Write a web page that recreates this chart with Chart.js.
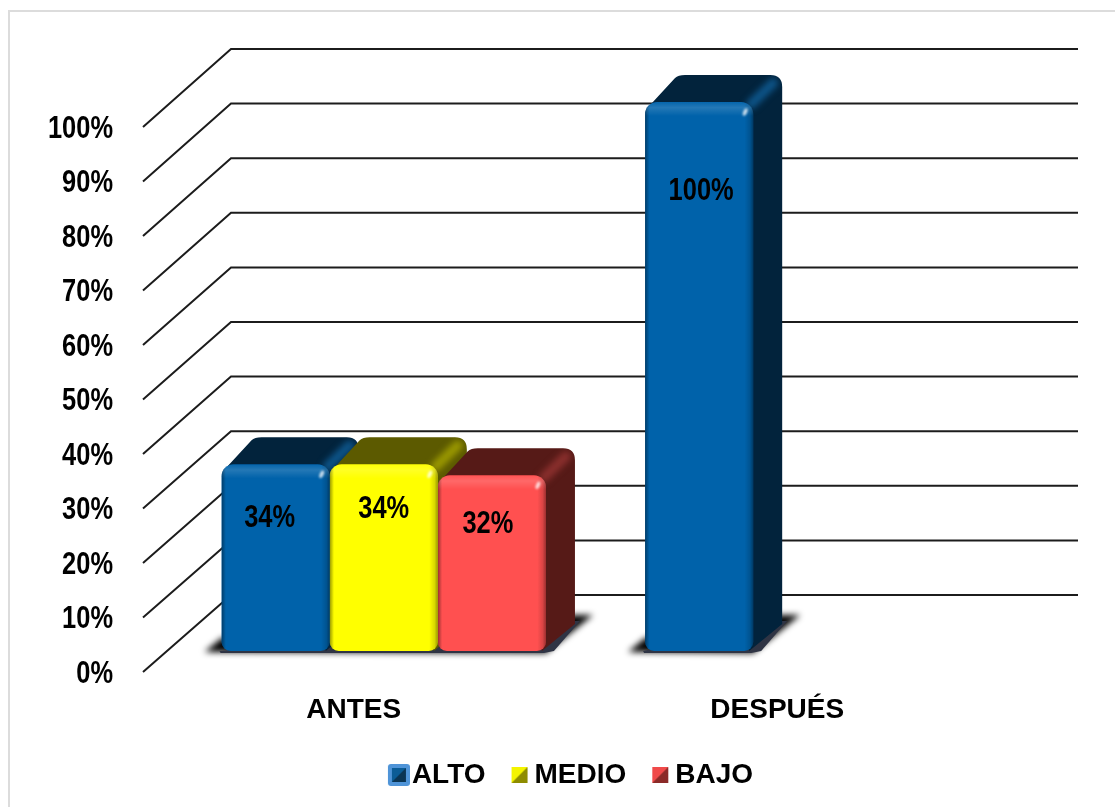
<!DOCTYPE html>
<html>
<head>
<meta charset="utf-8">
<title>ANTES / DESPUÉS</title>
<script src="https://cdn.jsdelivr.net/npm/chart.js@4/dist/chart.umd.min.js"></script>
<style>
  html, body { margin: 0; padding: 0; background: #fff; }
  #wrap { position: relative; width: 1115px; height: 807px; overflow: hidden; }
  #frame { position: absolute; left: 8px; top: 10px; right: 0; bottom: -5px;
           border-top: 2px solid #dcdcdc; border-left: 2px solid #dcdcdc; }
  canvas { position: absolute; left: 0; top: 0; }
</style>
</head>
<body>
<div id="wrap">
  <div id="frame"></div>
  <canvas id="chart" width="1115" height="807"></canvas>
</div>
<script>
// datos
const categories = ['ANTES', 'DESPUÉS'];
const seriesNames = ['ALTO', 'MEDIO', 'BAJO'];
const alto = [34, 100];
const medio = [34, null];
const bajo = [32, null];
const yTicks = [0, 10, 20, 30, 40, 50, 60, 70, 80, 90, 100];

// colores por serie
const frontColors = ['#0062aa', '#ffff00', '#ff5050'];
const darkColors = ['#02233c', '#5c5a00', '#561a17'];
const stripColors = ['#0d5488', '#9a9800', '#8a2f2d'];

const FONT = "'Liberation Sans', Arial, sans-serif";

// perspectiva del grafico
const DEPTH_X = 29, DEPTH_Y = 27;
const WALL_LEFT = 231, WALL_RIGHT = 1078;

// ajuste manual de las etiquetas de valor [serie][categoria]
const labelNudge = [
  [[-6, 54], [2, 89]],
  [[0, 45], null],
  [[-4, 49], null]
];

function frontY(p, v) { return p + 21 + v * 0.04; }
function wallY(p, v) { return p - 56 + v * 0.03; }

// texto angosto, el original esta comprimido a lo ancho
function narrowText(ctx, text, x, y, align) {
  ctx.save();
  ctx.font = 'bold 31px ' + FONT;
  ctx.fillStyle = '#000';
  ctx.textAlign = align;
  ctx.textBaseline = 'middle';
  ctx.translate(x, y);
  ctx.scale(0.82, 1);
  ctx.fillText(text, 0, 0);
  ctx.restore();
}

function legendIcon(i) {
  const c = document.createElement('canvas');
  c.width = 34; c.height = 24;
  const g = c.getContext('2d');
  const size = i === 0 ? 14 : 16;
  const right = i === 0 ? 30 : 29;
  const x = right - size, y = 12 - size / 2;
  if (i === 0) {
    g.fillStyle = '#4f94d8';
    g.beginPath();
    g.roundRect(x - 4, y - 4, size + 8, size + 8, 3);
    g.fill();
  }
  const tops = ['#0b5c96', '#f4f400', '#f04a4a'];
  const bottoms = ['#0a3554', '#8e8c00', '#8b2a28'];
  g.fillStyle = bottoms[i];
  g.fillRect(x, y, size, size);
  g.fillStyle = tops[i];
  g.beginPath();
  g.moveTo(x, y); g.lineTo(x + size, y); g.lineTo(x, y + size);
  g.closePath();
  g.fill();
  return c;
}

function roundedPath(ctx, el) {
  ctx.beginPath();
  ctx.roundRect(el.x - el.width / 2, el.y, el.width, el.base - el.y, [12, 12, 9, 9]);
}

function depthPath(ctx, x0, x1, t, b) {
  ctx.beginPath();
  ctx.moveTo(x0 + 6, t + 2);
  ctx.lineTo(x0 + 30, t - DEPTH_Y + 3);
  ctx.quadraticCurveTo(x0 + 33, t - DEPTH_Y, x0 + 40, t - DEPTH_Y);
  ctx.lineTo(x1 + DEPTH_X - 12, t - DEPTH_Y);
  ctx.quadraticCurveTo(x1 + DEPTH_X, t - DEPTH_Y, x1 + DEPTH_X, t - DEPTH_Y + 12);
  ctx.lineTo(x1 + DEPTH_X, b - DEPTH_Y);
  ctx.lineTo(x1 - 4, b);
  ctx.lineTo(x1 - 4, t + 6);
  ctx.closePath();
}

const bars3d = {
  id: 'bars3d',
  afterLayout(chart) {
    // la leyenda va centrada bajo las barras, no bajo el area
    const legend = chart.legend;
    legend.left += 61;
    legend.right += 61;
    legend.top -= 8;
    legend.bottom -= 8;
  },
  beforeDatasetsDraw(chart) {
    const ctx = chart.ctx;
    const y = chart.scales.y;
    ctx.save();

    // pared con lineas y rotulos del eje
    ctx.strokeStyle = '#1c1c1c';
    ctx.lineWidth = 2;
    yTicks.forEach(v => {
      const p = y.getPixelForValue(v);
      ctx.beginPath();
      ctx.moveTo(143, frontY(p, v));
      ctx.lineTo(WALL_LEFT, wallY(p, v));
      ctx.lineTo(WALL_RIGHT, wallY(p, v));
      ctx.stroke();
      narrowText(ctx, v + '%', 113, frontY(p, v) + 2, 'right');
    });

    // sombra en el piso
    categories.forEach((_, c) => {
      const els = chart.data.datasets
        .map((d, i) => d.data[c] == null ? null : chart.getDatasetMeta(i).data[c])
        .filter(Boolean);
      const x0 = els[0].x - els[0].width / 2;
      const last = els[els.length - 1];
      const x1 = last.x + last.width / 2;
      const b = last.base;
      ctx.save();
      ctx.filter = 'blur(3px)';
      ctx.fillStyle = '#000';
      ctx.beginPath();
      ctx.moveTo(x0, b - 13);
      ctx.lineTo(x0 - 17, b + 1);
      ctx.lineTo(x1, b + 2);
      ctx.lineTo(x1 + 47, b - 36);
      ctx.lineTo(x1 + 27, b - 36);
      ctx.closePath();
      ctx.fill();
      ctx.restore();
      ctx.fillStyle = '#2f3444';
      ctx.beginPath();
      ctx.moveTo(x0 - 2, b);
      ctx.lineTo(x0 - 1, b + 2);
      ctx.lineTo(x1 - 2, b + 2);
      ctx.lineTo(x1 + 8, b);
      ctx.lineTo(x1 + 34, b - 30);
      ctx.lineTo(x1 + 24, b - 30);
      ctx.closePath();
      ctx.fill();
    });

    // caras superior y lateral
    chart.data.datasets.forEach((d, i) => {
      chart.getDatasetMeta(i).data.forEach((el, c) => {
        if (d.data[c] == null) return;
        const x0 = el.x - el.width / 2, x1 = el.x + el.width / 2;
        const t = el.y, b = el.base;
        ctx.fillStyle = darkColors[i];
        depthPath(ctx, x0, x1, t, b);
        ctx.fill();
        // arista iluminada
        ctx.save();
        depthPath(ctx, x0, x1, t, b);
        ctx.clip();
        ctx.filter = 'blur(3px)';
        ctx.strokeStyle = stripColors[i];
        ctx.lineWidth = 10;
        ctx.lineCap = 'round';
        ctx.beginPath();
        ctx.moveTo(x1 - 2, t + 2);
        ctx.lineTo(x1 + DEPTH_X - 9, t - DEPTH_Y + 8);
        ctx.stroke();
        ctx.restore();
      });
    });
    ctx.restore();
  },
  afterDatasetsDraw(chart) {
    const ctx = chart.ctx;
    chart.data.datasets.forEach((d, i) => {
      chart.getDatasetMeta(i).data.forEach((el, c) => {
        if (d.data[c] == null) return;
        const x0 = el.x - el.width / 2, x1 = el.x + el.width / 2;
        ctx.save();
        roundedPath(ctx, el);
        ctx.clip();
        // bisel izquierdo y derecho
        let g = ctx.createLinearGradient(x0, 0, x1, 0);
        g.addColorStop(0, 'rgba(0,0,0,0.4)');
        g.addColorStop(0.04, 'rgba(0,0,0,0)');
        g.addColorStop(0.92, 'rgba(0,0,0,0)');
        g.addColorStop(0.97, 'rgba(0,0,0,0.15)');
        g.addColorStop(1, 'rgba(0,0,0,0.4)');
        ctx.fillStyle = g;
        ctx.fillRect(x0, el.y, el.width, el.base - el.y);
        // bisel superior
        g = ctx.createLinearGradient(0, el.y, 0, el.y + 14);
        g.addColorStop(0, 'rgba(255,255,255,0.02)');
        g.addColorStop(0.4, 'rgba(255,255,255,0.14)');
        g.addColorStop(1, 'rgba(255,255,255,0)');
        ctx.fillStyle = g;
        ctx.fillRect(x0, el.y, el.width, 14);
        // brillo de la esquina
        ctx.filter = 'blur(1px)';
        ctx.fillStyle = 'rgba(255,255,255,0.75)';
        ctx.beginPath();
        ctx.ellipse(x1 - 8, el.y + 10, 2, 4, 0.4, 0, Math.PI * 2);
        ctx.fill();
        ctx.restore();

        // etiqueta de valor
        const n = labelNudge[i][c];
        narrowText(ctx, d.data[c] + '%', el.x + n[0], el.y + n[1], 'center');
      });
    });
  }
};

new Chart(document.getElementById('chart'), {
  type: 'bar',
  plugins: [bars3d],
  data: {
    labels: categories,
    datasets: [alto, medio, bajo].map((values, i) => ({
      label: seriesNames[i],
      data: values,
      backgroundColor: frontColors[i],
      borderRadius: { topLeft: 12, topRight: 12, bottomLeft: 9, bottomRight: 9 },
      borderSkipped: false,
      barPercentage: 1,
      categoryPercentage: 0.766
    }))
  },
  options: {
    responsive: false,
    animation: false,
    layout: { padding: { top: 102, right: 96 } },
    plugins: {
      tooltip: { enabled: false },
      legend: {
        position: 'bottom',
        onClick: null,
        labels: {
          color: '#000',
          font: { family: FONT, size: 28, weight: 'bold' },
          usePointStyle: true,
          boxWidth: 10,
          boxHeight: 10,
          padding: 25,
          generateLabels: () => seriesNames.map((name, i) => ({
            text: name,
            fontColor: '#000',
            pointStyle: legendIcon(i),
            datasetIndex: i,
            lineWidth: 0
          }))
        }
      }
    },
    scales: {
      x: {
        grid: { display: false },
        border: { display: false },
        afterFit(scale) {
          scale.height = 807 - 651 - scale.chart.legend.height;
        },
        ticks: {
          color: '#000',
          font: { family: FONT, size: 28, weight: 'bold' },
          padding: 34,
          labelOffset: -30,
          maxRotation: 0
        }
      },
      y: {
        min: 0,
        max: 100,
        grid: { display: false },
        border: { display: false },
        afterFit(scale) {
          scale.width = 172;
        },
        ticks: { display: false, stepSize: 10 }
      }
    }
  }
});
</script>
</body>
</html>
